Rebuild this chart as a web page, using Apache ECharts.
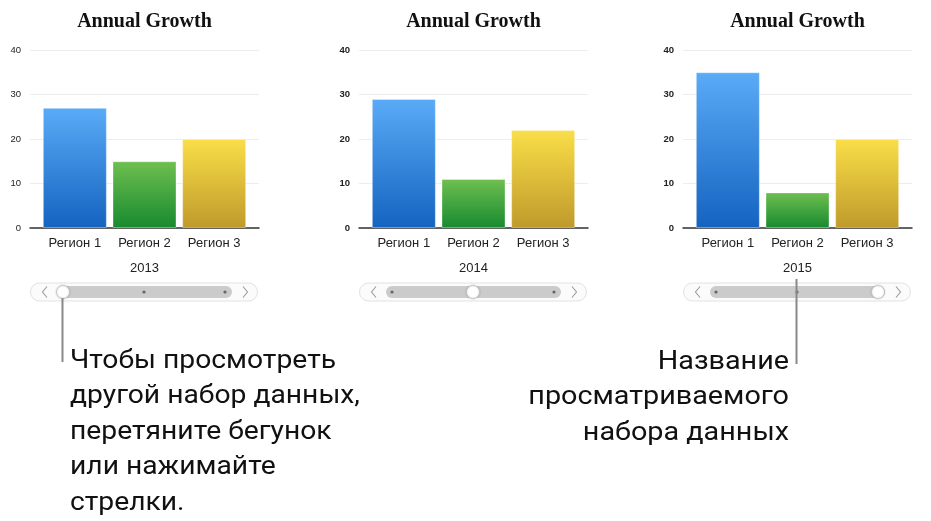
<!DOCTYPE html>
<html><head><meta charset="utf-8">
<script src="https://cdn.jsdelivr.net/npm/echarts@6/dist/echarts.min.js"></script>
<style>html,body{margin:0;padding:0;background:#fff}#c{width:931px;height:521px}</style>
</head><body><div id="c"></div>
<script>
// ---- data ----
const chartTitle = 'Annual Growth';
const regions = ['Регион 1', 'Регион 2', 'Регион 3'];
const years = ['2013', '2014', '2015'];
const values2013 = [27, 15, 20];
const values2014 = [29, 11, 22];
const values2015 = [35, 8, 20];
const yTicks = [0, 10, 20, 30, 40];
const leftNote = ['Чтобы просмотреть', 'другой набор данных,', 'перетяните бегунок', 'или нажимайте', 'стрелки.'];
const rightNote = ['Название', 'просматриваемого', 'набора данных'];

const panelValues = [values2013, values2014, values2015];
const panelLeft = [30, 359, 683];
const W = 229, TOP = 50, H = 178;
const barColors = [
  ['#5aabf7', '#1463c0'],
  ['#6fbf50', '#178a2f'],
  ['#fade48', '#bf9a2b']
];
const grad = (c) => new echarts.graphic.LinearGradient(0, 0, 0, 1, [{offset: 0, color: c[0]}, {offset: 1, color: c[1]}]);

const option = {
  backgroundColor: '#fff',
  animation: false,
  title: [], grid: [], xAxis: [], yAxis: [], series: [], graphic: []
};

panelValues.forEach((vals, p) => {
  const x0 = panelLeft[p];
  const cx = x0 + W / 2;
  option.title.push({
    text: chartTitle, left: cx, top: 12, textAlign: 'center', padding: 0,
    textStyle: {fontFamily: 'Liberation Serif', fontWeight: 'bold', fontSize: 20, color: '#111'}
  });
  option.grid.push({left: x0, top: TOP, width: W, height: H, containLabel: false});
  option.grid.push({left: x0 + 10, top: TOP, width: W - 20, height: H, containLabel: false});
  const gBg = p * 2, gBar = p * 2 + 1;
  option.xAxis.push({
    gridIndex: gBg, type: 'value', min: 0, max: 1, position: 'bottom',
    axisLine: {show: true, onZero: false, lineStyle: {color: '#333', width: 1.5}},
    axisTick: {show: false}, axisLabel: {show: false}, splitLine: {show: false}
  });
  option.yAxis.push({
    gridIndex: gBg, type: 'value', min: yTicks[0], max: yTicks[yTicks.length - 1], interval: 10,
    axisLine: {show: false}, axisTick: {show: false},
    axisLabel: {fontSize: 9.5, fontWeight: p === 0 ? 'normal' : 'bold', color: '#222', margin: 9, fontFamily: 'Liberation Sans'},
    splitLine: {lineStyle: {color: '#ededed', width: 1}}
  });
  option.xAxis.push({
    gridIndex: gBar, type: 'category', data: regions,
    axisLine: {show: false}, axisTick: {show: false},
    axisLabel: {fontSize: 13, color: '#222', margin: 9, fontFamily: 'Liberation Sans'}
  });
  option.yAxis.push({gridIndex: gBar, type: 'value', min: yTicks[0], max: yTicks[yTicks.length - 1], show: false});
  option.series.push({
    type: 'bar', xAxisIndex: p * 2 + 1, yAxisIndex: p * 2 + 1, barWidth: 64,
    data: vals.map((v, i) => ({value: v, itemStyle: {color: grad(barColors[i]), borderColor: 'rgba(255,255,255,0.35)', borderWidth: 1}}))
  });
  option.graphic.push({type: 'text', x: cx, y: 268.5, style: {text: years[p], fontSize: 13, fontFamily: 'Liberation Sans', fill: '#222', align: 'center', verticalAlign: 'middle'}});
  const sy = 292;
  option.graphic.push({type: 'rect', shape: {x: x0 + 0.5, y: sy - 9, width: 227, height: 18, r: 9}, style: {fill: '#fbfbfb', stroke: '#e2e2e2', lineWidth: 1}});
  option.graphic.push({type: 'rect', shape: {x: x0 + 27, y: sy - 6, width: 175, height: 12, r: 6}, style: {fill: '#cbcbcb'}});
  option.graphic.push({type: 'polyline', shape: {points: [[x0 + 17, sy - 5.5], [x0 + 12.5, sy], [x0 + 17, sy + 5.5]]}, style: {stroke: '#9a9a9a', lineWidth: 1.1, fill: null}});
  option.graphic.push({type: 'polyline', shape: {points: [[x0 + 213, sy - 5.5], [x0 + 217.5, sy], [x0 + 213, sy + 5.5]]}, style: {stroke: '#9a9a9a', lineWidth: 1.1, fill: null}});
  const stops = [x0 + 33, x0 + 114, x0 + 195];
  stops.forEach((sx, k) => {
    if (k !== p) option.graphic.push({type: 'circle', shape: {cx: sx, cy: sy, r: 1.6}, style: {fill: '#666'}});
  });
  option.graphic.push({type: 'circle', shape: {cx: stops[p], cy: sy, r: 6.5}, style: {fill: '#fff', stroke: '#c4c4c4', lineWidth: 0.8, shadowBlur: 2, shadowColor: 'rgba(0,0,0,0.2)'}});
});

option.graphic.push({type: 'line', shape: {x1: 62.5, y1: 298, x2: 62.5, y2: 362}, style: {stroke: '#888', lineWidth: 2}, z: 10});
option.graphic.push({type: 'line', shape: {x1: 796.5, y1: 279, x2: 796.5, y2: 364}, style: {stroke: '#888', lineWidth: 2}, z: 10});

leftNote.forEach((t, i) => {
  option.graphic.push({type: 'text', x: 70, y: 374 + i * 35.5, scaleX: 1.13, style: {text: t, fontSize: 25, fontFamily: 'Roboto', fill: '#111', align: 'left', verticalAlign: 'bottom'}});
});
rightNote.forEach((t, i) => {
  option.graphic.push({type: 'text', x: 789, y: 375 + i * 35.5, scaleX: 1.15, style: {text: t, fontSize: 25, fontFamily: 'Roboto', fill: '#111', align: 'right', verticalAlign: 'bottom'}});
});

const chart = echarts.init(document.getElementById('c'), null, {renderer: 'canvas'});
chart.setOption(option);
</script>
</body></html>
